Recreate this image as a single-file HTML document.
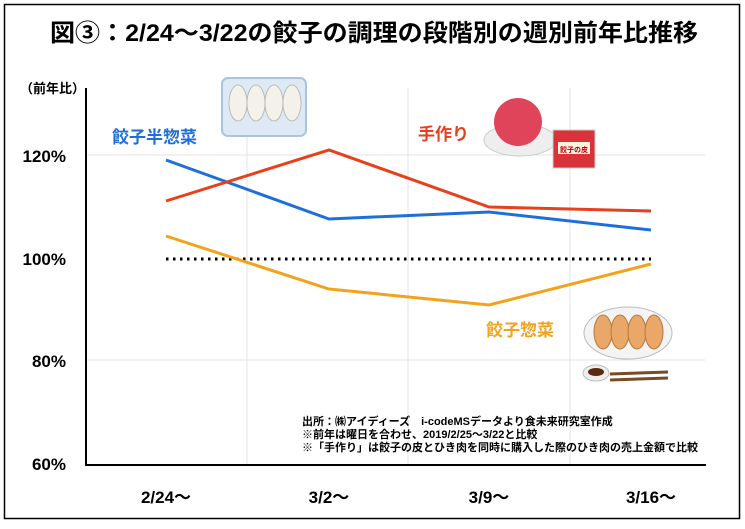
<!DOCTYPE html>
<html><head><meta charset="utf-8"><style>
body{margin:0;background:#fff}
svg text{font-family:"Liberation Sans","Noto Sans CJK JP",sans-serif;font-weight:bold}
</style></head><body>
<svg width="745" height="524" viewBox="0 0 745 524" xmlns="http://www.w3.org/2000/svg">
<rect x="4.5" y="4.5" width="735" height="514" fill="#fff" stroke="#000" stroke-width="1.5"/>
<text x="374" y="41" font-size="24" text-anchor="middle" fill="#000" textLength="648" lengthAdjust="spacingAndGlyphs">図③：2/24～3/22の餃子の調理の段階別の週別前年比推移</text>
<g stroke="#e3e3e3" stroke-width="1">
<line x1="247" y1="88" x2="247" y2="465"/><line x1="408" y1="88" x2="408" y2="465"/><line x1="570" y1="88" x2="570" y2="465"/>
<line x1="86" y1="155" x2="705" y2="155"/><line x1="86" y1="360" x2="705" y2="360"/>
</g>
<line x1="86" y1="88" x2="86" y2="465" stroke="#000" stroke-width="2"/>
<line x1="85" y1="465" x2="706" y2="465" stroke="#000" stroke-width="2"/>
<text x="20" y="93" font-size="13" fill="#000">（前年比）</text>
<g font-size="17" fill="#000" text-anchor="end">
<text x="66" y="162">120%</text><text x="66" y="265">100%</text><text x="66" y="367">80%</text><text x="66" y="470">60%</text>
</g>
<g font-size="17" fill="#000" text-anchor="middle">
<text x="166" y="503">2/24～</text><text x="329" y="503">3/2～</text><text x="489" y="503">3/9～</text><text x="651" y="503">3/16～</text>
</g>
<line x1="166" y1="259" x2="651" y2="259" stroke="#000" stroke-width="3" stroke-dasharray="2.5,4.5"/>
<polyline points="166,160 329,219 489,212 651,230" fill="none" stroke="#1e6fdc" stroke-width="3"/>
<polyline points="166,201 329,150 489,207 651,211" fill="none" stroke="#e8401c" stroke-width="3"/>
<polyline points="166,236 329,289 489,305 651,264" fill="none" stroke="#f4a21c" stroke-width="3"/>
<text x="112" y="143" font-size="17" fill="#1e6fdc">餃子半惣菜</text>
<text x="418" y="140" font-size="17" fill="#e8401c">手作り</text>
<text x="486" y="336" font-size="17" fill="#f4a21c">餃子惣菜</text>
<rect x="222" y="78" width="84" height="58" rx="6" fill="#dde9f4" stroke="#a9c4e0" stroke-width="2"/>
<g fill="#f3f1ea" stroke="#bbb"><ellipse cx="238" cy="103" rx="9" ry="18"/><ellipse cx="256" cy="103" rx="9" ry="18"/><ellipse cx="274" cy="103" rx="9" ry="18"/><ellipse cx="292" cy="103" rx="9" ry="18"/></g>
<ellipse cx="520" cy="140" rx="36" ry="16" fill="#eee" stroke="#ccc"/>
<circle cx="518" cy="122" r="24" fill="#e0445a"/>
<rect x="553" y="130" width="42" height="38" fill="#d8323a" stroke="#ccc"/>
<rect x="558" y="142" width="32" height="12" fill="#fff3e0"/>
<text x="574" y="152" font-size="7" text-anchor="middle" fill="#b00">餃子の皮</text>
<ellipse cx="628" cy="333" rx="44" ry="26" fill="#f4f4f4" stroke="#bbb"/>
<g fill="#e9a86a" stroke="#b57a3a"><ellipse cx="603" cy="332" rx="9" ry="17"/><ellipse cx="620" cy="332" rx="9" ry="17"/><ellipse cx="637" cy="332" rx="9" ry="17"/><ellipse cx="654" cy="332" rx="9" ry="17"/></g>
<ellipse cx="596" cy="373" rx="13" ry="8" fill="#eee" stroke="#bbb"/>
<ellipse cx="596" cy="372" rx="8" ry="4" fill="#5a2a10"/>
<line x1="610" y1="374" x2="668" y2="372" stroke="#7a4a22" stroke-width="3"/>
<line x1="610" y1="380" x2="668" y2="378" stroke="#7a4a22" stroke-width="3"/>
<g font-size="11" fill="#000">
<text x="302" y="425">出所：㈱アイディーズ　i-codeMSデータより食未来研究室作成</text>
<text x="302" y="438">※前年は曜日を合わせ、2019/2/25～3/22と比較</text>
<text x="302" y="451">※「手作り」は餃子の皮とひき肉を同時に購入した際のひき肉の売上金額で比較</text>
</g>
</svg>
</body></html>
